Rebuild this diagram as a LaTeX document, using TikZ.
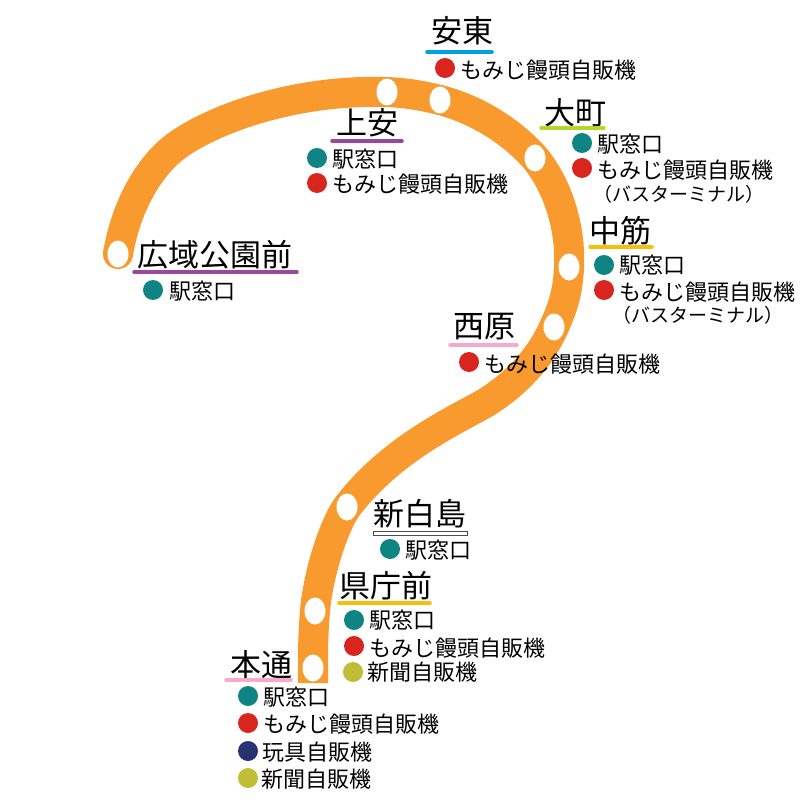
\documentclass[tikz,border=0pt]{standalone}
\usepackage{fontspec}
\setmainfont{Noto Sans CJK JP}
\usetikzlibrary{shapes.geometric}
\definecolor{ligne}{RGB}{248,154,46}
\definecolor{guichet}{RGB}{14,133,131}
\definecolor{manju}{RGB}{216,38,31}
\definecolor{jouet}{RGB}{39,51,111}
\definecolor{journal}{RGB}{191,190,53}
\definecolor{cyanb}{RGB}{0,160,225}
\definecolor{violet}{RGB}{155,70,160}
\definecolor{citron}{RGB}{178,217,40}
\definecolor{jaune}{RGB}{250,190,10}
\definecolor{rose}{RGB}{246,170,200}
\tikzset{
  arret/.style={ellipse,fill=white,minimum width=21pt,minimum height=27pt,inner sep=0pt},
  nomgare/.style={inner sep=0pt,font=\fontsize{31}{31}\selectfont,text height=27.3pt,text depth=3.7pt},
  pastille/.style={circle,fill=#1,minimum size=20pt,inner sep=0pt},
  service/.style={anchor=west,inner sep=0pt,font=\fontsize{22}{22}\selectfont,text height=19.4pt,text depth=2.6pt},
  remarque/.style={inner sep=0pt,font=\fontsize{19}{19}\selectfont},
  trait/.style={line width=3.5pt,line cap=round}
}
\begin{document}
\begin{tikzpicture}[x=1pt,y=-1pt]
        \useasboundingbox (0,0) rectangle (810,802);

        % Arrets de la ligne
        \coordinate (hiroiki) at (118,254);
        \coordinate (kamiyasu) at (387,92);
        \coordinate (yasuhigashi) at (440,100);
        \coordinate (omachi) at (535,158);
        \coordinate (nakasuji) at (569,267);
        \coordinate (nishihara) at (554,327);
        \coordinate (shinhakushima) at (347,507);
        \coordinate (kenchomae) at (315,611);
        \coordinate (hondori) at (313,668);
        \coordinate (terminus) at (313,683);

        % Ligne orange
        \fill[ligne] (hiroiki) circle (15);
        \draw[ligne,line width=30pt] (hiroiki)
            .. controls (125,212) and (144,174) .. (170,151)
            .. controls (200,125) and (285,89) .. (kamiyasu)
            .. controls (408,93) and (424,96) .. (yasuhigashi)
            .. controls (478,110) and (512,132) .. (omachi)
            .. controls (558,186) and (571,228) .. (nakasuji)
            .. controls (568,290) and (564,305) .. (nishihara)
            .. controls (540,358) and (518,382) .. (487,402)
            .. controls (456,420) and (392,448) .. (shinhakushima)
            .. controls (333,527) and (318,575) .. (kenchomae)
            .. controls (313,635) and (313,650) .. (hondori)
            -- (terminus);

        \node[arret] (a1) at (hiroiki) {};
        \node[arret] (a2) at (kamiyasu) {};
        \node[arret] (a3) at (yasuhigashi) {};
        \node[arret] (a4) at (omachi) {};
        \node[arret] (a5) at (nakasuji) {};
        \node[arret] (a6) at (nishihara) {};
        \node[arret] (a7) at (shinhakushima) {};
        \node[arret] (a8) at (kenchomae) {};
        \node[arret] (a9) at (hondori) {};

        % Noms des gares
        \node[nomgare] (n1) at (215,255) {広域公園前};
        \node[nomgare] (n2) at (367,123) {上安};
        \node[nomgare] (n3) at (462,31) {安東};
        \node[nomgare] (n4) at (575,113) {大町};
        \node[nomgare] (n5) at (620,231) {中筋};
        \node[nomgare] (n6) at (484,326) {西原};
        \node[nomgare] (n7) at (420,514) {新白島};
        \node[nomgare] (n8) at (386,586) {県庁前};
        \node[nomgare] (n9) at (261,665) {本通};

        % Traits sous les noms
        \draw[trait,violet] (134,272) -- (297,272);
        \draw[trait,violet] (332,141) -- (402,141);
        \draw[trait,cyanb] (427,52) -- (492,52);
        \draw[trait,citron] (541,128) -- (604,128);
        \draw[trait,jaune] (590,247) -- (652,247);
        \draw[trait,rose] (450,345) -- (517,345);
        \draw[fill=white,draw=black!70,line width=.8pt] (373,531) rectangle (467,535);
        \draw[trait,jaune] (339,603) -- (430,603);
        \draw[trait,rose] (226,680) -- (291,680);

        % Services : pastilles et textes
        \node[pastille=guichet] (p1) at (153,290) {};
        \node[service] (s1) at (169,291) {駅窓口};

        \node[pastille=guichet] (p2) at (317,158) {};
        \node[service] (s2) at (332,159) {駅窓口};
        \node[pastille=manju] (p3) at (317,183) {};
        \node[service] (s3) at (332,184) {もみじ饅頭自販機};

        \node[pastille=manju] (p4) at (445,68) {};
        \node[service] (s4) at (460,70) {もみじ饅頭自販機};

        \node[pastille=guichet] (p5) at (582,143) {};
        \node[service] (s5) at (597,144) {駅窓口};
        \node[pastille=manju] (p6) at (582,168) {};
        \node[service] (s6) at (597,170) {もみじ饅頭自販機};
        \node[remarque] (r1) at (679,194) {（バスターミナル）};

        \node[pastille=guichet] (p7) at (604,265) {};
        \node[service] (s7) at (619,265) {駅窓口};
        \node[pastille=manju] (p8) at (604,290) {};
        \node[service] (s8) at (619,292) {もみじ饅頭自販機};
        \node[remarque] (r2) at (698,315) {（バスターミナル）};

        \node[pastille=manju] (p9) at (469,362) {};
        \node[service] (s9) at (484,364) {もみじ饅頭自販機};

        \node[pastille=guichet] (p10) at (390,549) {};
        \node[service] (s10) at (405,550) {駅窓口};

        \node[pastille=guichet] (p11) at (354,620) {};
        \node[service] (s11) at (369,620) {駅窓口};
        \node[pastille=manju] (p12) at (354,646) {};
        \node[service] (s12) at (369,648) {もみじ饅頭自販機};
        \node[pastille=journal] (p13) at (353,672) {};
        \node[service] (s13) at (367,672) {新聞自販機};

        \node[pastille=guichet] (p14) at (248,696) {};
        \node[service] (s14) at (263,697) {駅窓口};
        \node[pastille=manju] (p15) at (248,723) {};
        \node[service] (s15) at (263,724) {もみじ饅頭自販機};
        \node[pastille=jouet] (p16) at (248,751) {};
        \node[service] (s16) at (262,752) {玩具自販機};
        \node[pastille=journal] (p17) at (248,778) {};
        \node[service] (s17) at (261,779) {新聞自販機};

    \end{tikzpicture}
\end{document}
